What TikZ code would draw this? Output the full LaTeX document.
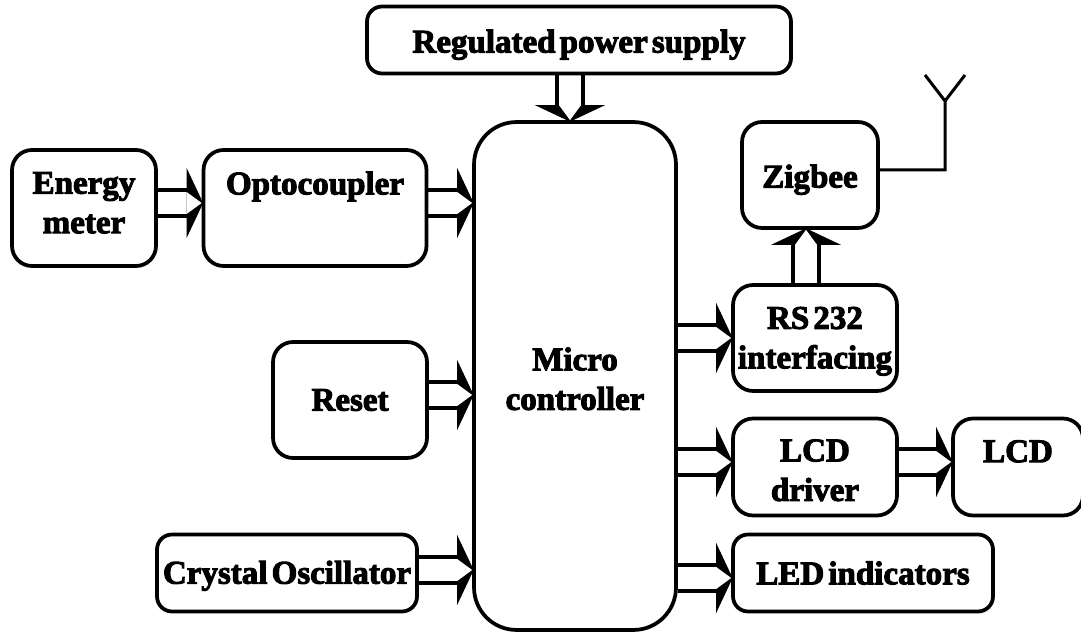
\documentclass[tikz,border=0pt]{standalone}
\usepackage{fontspec}
\setmainfont{Liberation Serif}[BoldFeatures={FakeBold=3},WordSpace=0.5]
\usetikzlibrary{arrows.meta,backgrounds}
\tikzset{
    blockbox/.style={draw, line width=0.075cm, rounded corners=0.4cm, align=center, inner sep=0pt, font=\fontsize{18.8}{22.5}\selectfont\bfseries},
    busarrow/.style={double, double distance=0.44cm, line width=0.08cm, -{Triangle[length=0.33cm, width=1.4cm, line width=0pt, black, sep=-0.33cm] Triangle[length=0.3cm, width=0.44cm, line width=0pt, white, fill=white]}},
}

\begin{document}
\begin{tikzpicture}[x=0.02cm,y=-0.02cm]
        \useasboundingbox (0,0) rectangle (1081,634);
        \node[blockbox, minimum width=8.48cm, minimum height=1.34cm, rounded corners=0.3cm] (supply) at (579,40) {\rule{0pt}{18.4pt}Regulated power supply};
        \node[blockbox, minimum width=4.04cm, minimum height=10.16cm, rounded corners=0.85cm] (micro) at (575,376) {\rule{0pt}{16.2pt}Micro\\controller};
        \node[blockbox, minimum width=2.72cm, minimum height=2.12cm] (zigbee) at (810,175) {\rule{0pt}{18.4pt}Zigbee};
        \node[blockbox, minimum width=3.28cm, minimum height=2.12cm] (rs) at (815,338) {\rule{0pt}{16.2pt}RS 232\\interfacing};
        \node[blockbox, minimum width=3.28cm, minimum height=1.94cm] (driver) at (815,467) {\rule{0pt}{16.2pt}LCD\\driver};
        \node[blockbox, minimum width=2.6cm, minimum height=1.94cm] (lcd) at (1018,467) {LCD\\[-4.5pt]~};
        \node[blockbox, minimum width=5.2cm, minimum height=1.54cm, rounded corners=0.3cm] (led) at (863,573) {LED indicators};
        \node[blockbox, minimum width=2.88cm, minimum height=2.32cm] (energy) at (84,208) {Energy\\meter\\[-16.4pt]~};
        \node[blockbox, minimum width=4.46cm, minimum height=2.32cm] (opto) at (315,208) {Optocoupler\\[6pt]~};
        \node[blockbox, minimum width=3.08cm, minimum height=2.32cm] (reset) at (350,400) {Reset};
        \node[blockbox, minimum width=5.2cm, minimum height=1.54cm, rounded corners=0.3cm] (crystal) at (287,573) {\rule{0pt}{16.2pt}Crystal Oscillator};
        \coordinate (mast) at (945,101);
        \coordinate (elbow) at (945,170);
        \coordinate (tipl) at (925,75);
        \coordinate (tipr) at (965,75);
        \begin{scope}[on background layer]
        \draw[busarrow] ([yshift=0.1cm]energy.east) -- ([yshift=0.1cm]opto.west);
        \draw[busarrow] ([yshift=0.1cm]opto.east) -- ([yshift=0.1cm]opto.east -| micro.west);
        \draw[busarrow] ([yshift=0.1cm]reset.east) -- ([yshift=0.1cm]reset.east -| micro.west);
        \draw[busarrow] ([yshift=0.06cm]crystal.east) -- ([yshift=0.06cm]crystal.east -| micro.west);
        \draw[busarrow] ([xshift=-0.18cm]supply.south) -- ([xshift=-0.18cm]supply.south |- micro.north);
        \draw[busarrow] ([xshift=-0.18cm]rs.north) -- ([xshift=-0.18cm]rs.north |- zigbee.south);
        \draw[busarrow] (rs.west -| micro.east) -- (rs.west);
        \draw[busarrow] ([yshift=0.1cm]driver.west -| micro.east) -- ([yshift=0.1cm]driver.west);
        \draw[busarrow] ([yshift=0.1cm]driver.east) -- ([yshift=0.1cm]lcd.west);
        \draw[busarrow] ([yshift=-0.1cm]led.west -| micro.east) -- ([yshift=-0.1cm]led.west);
        \end{scope}
        \draw[line width=0.06cm] (zigbee.east |- elbow) -- (elbow) -- (mast) -- (tipl);
        \draw[line width=0.06cm] (mast) -- (tipr);
    \end{tikzpicture}
\end{document}
